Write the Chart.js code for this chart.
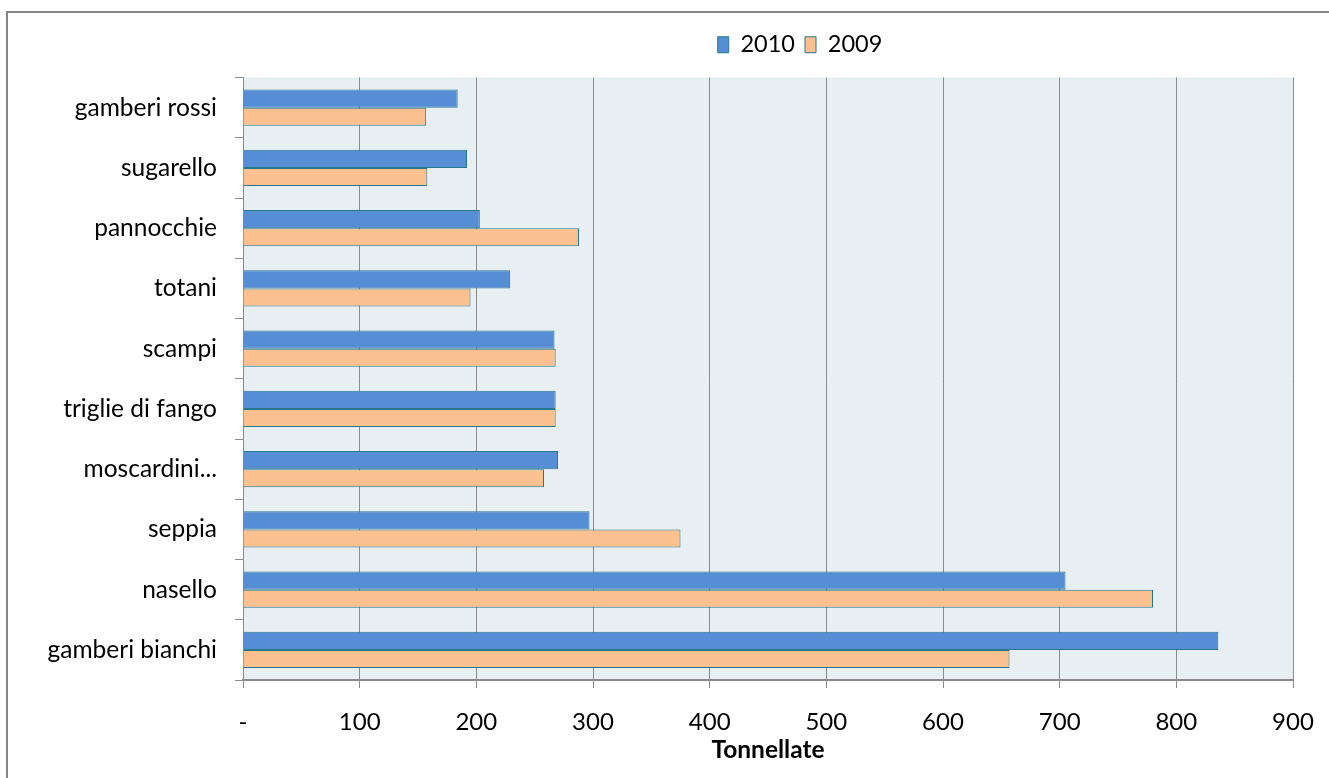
<!DOCTYPE html>
<html>
<head>
<meta charset="utf-8">
<script src="https://cdn.jsdelivr.net/npm/chart.js@4"></script>
<style>
  html, body { margin: 0; padding: 0; background: #fff; }
  #wrap { position: relative; width: 1329px; height: 778px; overflow: hidden; }
  #frame { position: absolute; left: 6px; top: 11px; right: -10px; bottom: -10px;
           border-left: 2px solid #868686; border-top: 2px solid #868686; }
  canvas { position: absolute; left: 0; top: 0; }
</style>
</head>
<body>
<div id="wrap">
  <div id="frame"></div>
  <canvas id="chart" width="1329" height="778"></canvas>
</div>
<script>
const categories = ['gamberi rossi', 'sugarello', 'pannocchie', 'totani', 'scampi',
                    'triglie di fango', 'moscardini...', 'seppia', 'nasello', 'gamberi bianchi'];
const values2010 = [184, 192, 203, 229, 267, 268, 270, 297, 705, 836];
const values2009 = [157, 158, 288, 195, 268, 268, 258, 375, 780, 657];
const xTicks = [0, 100, 200, 300, 400, 500, 600, 700, 800, 900];

const FONT = 'Lato';
const GRID = '#8a8a8a';

const plotBg = {
    id: 'plotBg',
    beforeDraw(chart) {
        const { ctx, chartArea: a } = chart;
        ctx.save();
        ctx.fillStyle = '#e8eff3';
        ctx.fillRect(a.left, a.top, a.right - a.left, a.bottom - a.top);
        ctx.restore();
    }
};

// legend sits right of centre and higher than Chart.js puts it
const legendShift = {
    id: 'legendShift',
    afterLayout(chart) {
        const lg = chart.legend;
        const dx = 800 - (lg.left + lg.right) / 2;
        lg.left += dx; lg.right += dx;
        lg.top -= 11; lg.bottom -= 11;
    }
};

new Chart(document.getElementById('chart'), {
    type: 'bar',
    data: {
        labels: categories,
        datasets: [
            { label: '2010', data: values2010, backgroundColor: '#558ed5', borderColor: '#287689', borderWidth: 1 },
            { label: '2009', data: values2009, backgroundColor: '#fac090', borderColor: '#287689', borderWidth: 1 }
        ]
    },
    options: {
        indexAxis: 'y',
        responsive: false,
        animation: false,
        categoryPercentage: 0.6,
        barPercentage: 1.0,
        layout: { padding: { top: 34, right: 36, bottom: 0, left: 0 } },
        plugins: {
            legend: {
                position: 'top',
                labels: { boxWidth: 11, boxHeight: 16, padding: 10, color: '#000',
                          font: { family: FONT, size: 23.5 } }
            },
            tooltip: { enabled: false }
        },
        scales: {
            x: {
                min: 0, max: 900,
                afterBuildTicks: s => { s.ticks = xTicks.map(v => ({ value: v })); },
                afterFit: s => { s.height = 98; s.paddingRight = 0; s.paddingLeft = 0; },
                grid: { color: GRID, lineWidth: 1, tickLength: 8, drawTicks: true },
                border: { color: GRID, width: 2 },
                ticks: { color: '#000', padding: 20, font: { family: FONT, size: 24 },
                         callback: v => v === 0 ? '-' : v },
                title: { display: true, text: 'Tonnellate', color: '#000',
                         font: { family: FONT, size: 24.5, weight: 'bold' }, padding: { top: 0, bottom: 13 } }
            },
            y: {
                afterFit: s => { s.width = 243; },
                grid: { drawOnChartArea: false, color: GRID, tickLength: 8, offset: true },
                border: { color: GRID, width: 1 },
                ticks: { color: '#000', padding: 18, font: { family: FONT, size: 24.5 } }
            }
        }
    },
    plugins: [plotBg, legendShift]
});
</script>
</body>
</html>
